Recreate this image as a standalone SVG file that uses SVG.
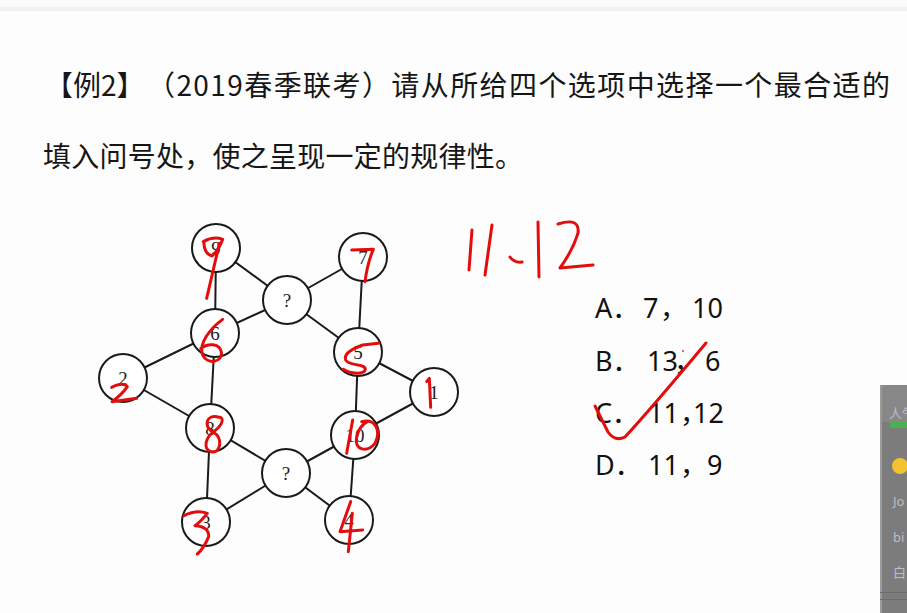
<svg xmlns="http://www.w3.org/2000/svg" width="907" height="613" viewBox="0 0 907 613">
<style>
.edge{stroke:#1a1a1a;stroke-width:2;fill:none}
.node circle{fill:#fff;stroke:#1a1a1a;stroke-width:2}
.node text{font-family:"Liberation Serif",serif;font-size:19px;fill:#222;text-anchor:middle}
.cjk{font-family:"Noto Sans CJK SC","Noto Sans",sans-serif;fill:#161616}
.opt{font-family:"Noto Sans","Noto Sans CJK SC",sans-serif;font-size:27px;fill:#111}
.ink{fill:none;stroke:#e30d0d;stroke-width:9;stroke-linecap:round;stroke-linejoin:round}
.ink2{fill:none;stroke:#e30d0d;stroke-width:3;stroke-linecap:round;stroke-linejoin:round}
.side{font-family:"Noto Sans","Noto Sans CJK SC",sans-serif;font-size:13px;fill:#b9bfcc}
</style>
<rect x="0" y="0" width="907" height="613" fill="#fdfdfd"/>
<rect x="0" y="0" width="907" height="8" fill="#fbfbfb"/>
<rect x="0" y="7" width="907" height="4" fill="#f1f1f1"/>

<text class="cjk" x="45" y="96" font-size="28">【例2】</text>
<text class="cjk" x="147" y="96" font-size="28" textLength="743" lengthAdjust="spacing">（2019春季联考）请从所给四个选项中选择一个最合适的</text>
<text class="cjk" x="43" y="167" font-size="28" textLength="480" lengthAdjust="spacing">填入问号处，使之呈现一定的规律性。</text>

<g id="connectors">
<line class="edge" x1="216" y1="248" x2="287" y2="300"/>
<line class="edge" x1="216" y1="248" x2="215" y2="333"/>
<line class="edge" x1="363" y1="257" x2="287" y2="300"/>
<line class="edge" x1="287" y1="300" x2="215" y2="333"/>
<line class="edge" x1="287" y1="300" x2="358" y2="352"/>
<line class="edge" x1="363" y1="257" x2="358" y2="352"/>
<line class="edge" x1="215" y1="333" x2="123" y2="378"/>
<line class="edge" x1="215" y1="333" x2="210" y2="428"/>
<line class="edge" x1="123" y1="378" x2="210" y2="428"/>
<line class="edge" x1="358" y1="352" x2="434" y2="392"/>
<line class="edge" x1="358" y1="352" x2="355" y2="435"/>
<line class="edge" x1="434" y1="392" x2="355" y2="435"/>
<line class="edge" x1="210" y1="428" x2="286" y2="473"/>
<line class="edge" x1="210" y1="428" x2="206" y2="522"/>
<line class="edge" x1="355" y1="435" x2="286" y2="473"/>
<line class="edge" x1="286" y1="473" x2="206" y2="522"/>
<line class="edge" x1="286" y1="473" x2="349" y2="520"/>
<line class="edge" x1="355" y1="435" x2="349" y2="520"/>
</g>

<g id="n9" class="node"><circle cx="216" cy="248" r="24"/><text x="216" y="255">9</text></g>
<g id="n7" class="node"><circle cx="363" cy="257" r="24"/><text x="363" y="264">7</text></g>
<g id="qtop" class="node"><circle cx="287" cy="300" r="24"/><text x="287" y="307">?</text></g>
<g id="n6" class="node"><circle cx="215" cy="333" r="24"/><text x="215" y="340">6</text></g>
<g id="n5" class="node"><circle cx="358" cy="352" r="24"/><text x="358" y="359">5</text></g>
<g id="n2" class="node"><circle cx="123" cy="378" r="24"/><text x="123" y="385">2</text></g>
<g id="n1" class="node"><circle cx="434" cy="392" r="24"/><text x="434" y="399">1</text></g>
<g id="n8" class="node"><circle cx="210" cy="428" r="24"/><text x="210" y="435">8</text></g>
<g id="n10" class="node"><circle cx="355" cy="435" r="24"/><text x="355" y="442">10</text></g>
<g id="qbot" class="node"><circle cx="286" cy="473" r="24"/><text x="286" y="480">?</text></g>
<g id="n3" class="node"><circle cx="206" cy="522" r="24"/><text x="206" y="529">3</text></g>
<g id="n4" class="node"><circle cx="349" cy="520" r="24"/><text x="349" y="527">4</text></g>

<g id="options">
<text class="opt" y="318"><tspan x="595">A．</tspan><tspan x="643">7</tspan><tspan x="660">，</tspan><tspan x="692">10</tspan></text>
<text class="opt" y="371"><tspan x="595">B．</tspan><tspan x="647">13</tspan><tspan x="674">，</tspan><tspan x="705">6</tspan></text>
<text class="opt" y="423"><tspan x="595">C．</tspan><tspan x="648">11</tspan><tspan x="680">，</tspan><tspan x="693">12</tspan></text>
<text class="opt" y="475"><tspan x="595">D．</tspan><tspan x="648">11</tspan><tspan x="680">，</tspan><tspan x="707">9</tspan></text>
</g>

<g id="handwriting" transform="translate(80 220) scale(0.33333)">
<path class="ink" d="M370,65 Q400,48 428,58 Q418,88 396,108 Q372,100 372,70"/>
<path class="ink" d="M418,70 Q400,150 380,235"/>
<path class="ink" d="M815,90 L880,88 Q862,130 855,185"/>
<path class="ink" d="M428,298 C388,328 355,372 368,405 C382,435 428,428 424,396 C418,368 382,370 362,386"/>
<path class="ink" d="M895,370 L848,375 C820,385 790,400 797,420 C805,438 855,430 856,448 C852,465 812,462 790,448"/>
<path class="ink" d="M95,502 Q130,485 142,500 Q125,525 96,545 L170,535"/>
<path class="ink" d="M1040,485 L1048,475 L1052,562"/>
<path class="ink" d="M418,592 C378,580 368,620 400,637 C430,652 422,700 396,696 C366,690 376,650 405,632 C430,612 432,592 418,592"/>
<path class="ink" d="M818,600 L800,700"/>
<path class="ink" d="M845,605 C885,595 905,630 885,670 C862,698 822,692 830,652 C836,625 852,610 862,605"/>
<path class="ink" d="M312,887 Q350,868 382,880 Q362,905 345,917 Q388,920 386,950 Q372,985 352,1002"/>
<path class="ink" d="M812,845 L780,935 L848,930"/>
<path class="ink" d="M817,880 L805,995"/>
</g>

<g id="answer-ink">
<path class="ink2" d="M472,230 L469,270"/>
<path class="ink2" d="M492,225 L485,275"/>
<path class="ink2" d="M510,257 Q514,263 522,262"/>
<path class="ink2" d="M538,222 L539,277"/>
<path class="ink2" d="M558,224 Q580,217 578,233 Q573,250 560,268 L593,265"/>
<path class="ink2" d="M595,406 Q602,420 608,432 Q615,442 625,437 Q650,410 706,343"/>
<circle cx="683" cy="351" r="1" fill="#d33"/>
</g>

<g id="sidebar">
<rect x="880" y="385" width="27" height="228" fill="#7c7c7c"/>
<rect x="880" y="385" width="27" height="37" fill="#888"/>
<rect x="880" y="385" width="2" height="228" fill="#9a9a9a"/>
<text class="side" x="889" y="418" font-size="12">人气</text>
<rect x="890" y="421" width="17" height="7" fill="#4caf50"/>
<circle cx="900" cy="466" r="8" fill="#f2c230"/>
<text class="side" x="893" y="506">Jo</text>
<text class="side" x="893" y="542">bi</text>
<text class="side" x="893" y="577">白</text>
<rect x="880" y="592" width="27" height="1" fill="#6c6c6c"/>
<rect x="880" y="599" width="27" height="1" fill="#6a6a6a"/>
</g>
</svg>
